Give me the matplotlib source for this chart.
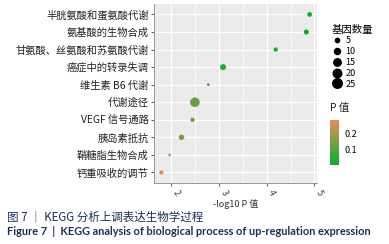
import matplotlib.pyplot as plt
import numpy as np
from matplotlib.colors import LinearSegmentedColormap, Normalize
from matplotlib.lines import Line2D

plt.rcParams['font.family'] = ['Noto Sans CJK SC', 'DejaVu Sans']

# 数据
pathways = ['半胱氨酸和蛋氨酸代谢', '氨基酸的生物合成', '甘氨酸、丝氨酸和苏氨酸代谢',
            '癌症中的转录失调', '维生素 B6 代谢', '代谢途径', 'VEGF 信号通路',
            '胰岛素抵抗', '鞘糖脂生物合成', '钙重吸收的调节']
neg_log_p = [4.90, 4.83, 4.19, 3.09, 2.78, 2.50, 2.45, 2.22, 1.97, 1.80]
p_values = [0.003, 0.005, 0.012, 0.04, 0.06, 0.12, 0.12, 0.15, 0.25, 0.28]
gene_counts = [6, 7, 5, 10, 2, 25, 5, 8, 2, 5]
size_levels = [5, 10, 15, 20, 25]

size_scale = 1.9
cmap = LinearSegmentedColormap.from_list('pg', ['#00B233', '#F0885A'])
norm = Normalize(vmin=0.0, vmax=0.285)

fig = plt.figure(figsize=(3.89, 2.44), dpi=100)
ax = fig.add_axes([0.396, 0.25, 0.419, 0.734])
ax.set_facecolor('#EBEBEB')

ypos = np.arange(len(pathways))
ax.scatter(neg_log_p, ypos, s=np.array(gene_counts) * size_scale,
           c=p_values, cmap=cmap, norm=norm, zorder=3, linewidths=0)

ax.set_yticks(ypos)
ax.set_yticklabels(pathways, fontsize=7.4, color='#222222')
ax.set_ylim(len(pathways) - 0.4, -0.6)
ax.set_xlim(1.645, 5.055)
ax.set_xticks([2, 3, 4, 5])
ax.set_xticks([2.5, 3.5, 4.5], minor=True)
ax.set_xticklabels(['2', '3', '4', '5'], rotation=-60, fontsize=6.5,
                   color='#444444', ha='left', va='top')
ax.tick_params(axis='both', which='major', length=2.5, width=0.6, color='#444444', pad=1.5)
ax.tick_params(axis='x', which='minor', length=0)
ax.grid(True, which='major', color='white', linewidth=0.9, zorder=0)
ax.grid(True, which='minor', axis='x', color='white', linewidth=0.5, zorder=0)
ax.set_axisbelow(True)
for side in ['top', 'right']:
    ax.spines[side].set_visible(False)
for side in ['left', 'bottom']:
    ax.spines[side].set_color('#888888')
    ax.spines[side].set_linewidth(0.6)
ax.set_xlabel('-log10 P 值', fontsize=6.5, color='#333333', labelpad=1)

# 基因数量图例
handles = [Line2D([], [], linestyle='none', marker='o', color='black',
                  markersize=np.sqrt(n * size_scale)) for n in size_levels]
leg = fig.legend(handles, [str(n) for n in size_levels], title='基因数量',
                 loc='upper left', bbox_to_anchor=(0.835, 0.925), frameon=False,
                 fontsize=6.5, title_fontsize=7.5, handletextpad=0.4,
                 labelspacing=0.2, borderpad=0.2, handlelength=1.2)
leg._legend_box.align = 'left'

# P 值色标
cax = fig.add_axes([0.848, 0.324, 0.023, 0.184])
sm = plt.cm.ScalarMappable(cmap=cmap, norm=norm)
cb = fig.colorbar(sm, cax=cax, ticks=[0.1, 0.2])
cb.outline.set_visible(False)
cb.ax.tick_params(labelsize=6.5, length=2, color='white', pad=2)
fig.text(0.848, 0.535, 'P 值', fontsize=7.5, color='#222222', va='bottom')

# 图题
fig.text(0.018, 0.11, '图 7 ｜ KEGG 分析上调表达生物学过程', fontsize=8.3,
         color='#1F2F55', va='center')
fig.text(0.018, 0.053, 'Figure 7  |  KEGG analysis of biological process of up-regulation expression',
         fontsize=7.9, color='#1F2F55', fontweight='bold', va='center',
         family=['Lato', 'DejaVu Sans'])

fig.savefig('out.png', dpi=100)
